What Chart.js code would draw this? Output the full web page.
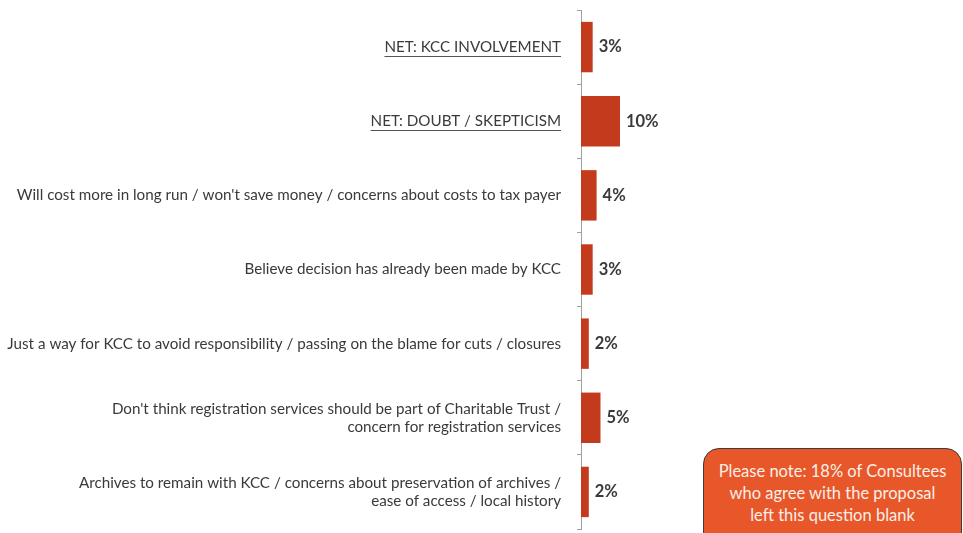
<!DOCTYPE html>
<html>
<head>
<meta charset="utf-8">
<script src="https://cdn.jsdelivr.net/npm/chart.js@4/dist/chart.umd.min.js"></script>
<style>
  html, body { margin: 0; padding: 0; background: #fff; }
  #wrap { position: relative; width: 963px; height: 533px; }
  #note {
    position: absolute; left: 703px; top: 448px; width: 259px; height: 100px;
    box-sizing: border-box; background: #e8572a; border: 1.5px solid #3c3c3c;
    border-radius: 16px; color: #fbefe9; font: 16.5px Lato, sans-serif;
    text-align: center; line-height: 22px; padding-top: 11px;
  }
</style>
</head>
<body>
<div id="wrap">
  <canvas id="chart" width="963" height="533"></canvas>
  <div id="note">Please note: 18% of Consultees<br>who agree with the proposal<br>left this question blank</div>
</div>
<script>
const categories = [
    ['NET: KCC INVOLVEMENT'],
    ['NET: DOUBT / SKEPTICISM'],
    ['Will cost more in long run / won\'t save money / concerns about costs to tax payer'],
    ['Believe decision has already been made by KCC'],
    ['Just a way for KCC to avoid responsibility / passing on the blame for cuts / closures'],
    ['Don\'t think registration services should be part of Charitable Trust /', 'concern for registration services'],
    ['Archives to remain with KCC / concerns about preservation of archives /', 'ease of access / local history'],
];
const underlined = [0, 1];
const values = [3, 10, 4, 3, 2, 5, 2];
const valueLabels = ['3%', '10%', '4%', '3%', '2%', '5%', '2%'];

const textColor = '#3a3a3a';
const labelSize = 15.2;
const labelFont = labelSize + 'px Lato, sans-serif';

const extras = {
    id: 'extras',
    afterDraw(chart) {
        const { ctx } = chart;
        const yScale = chart.scales.y;
        const meta = chart.getDatasetMeta(0);
        ctx.save();
        // underline the NET labels
        ctx.font = labelFont;
        ctx.strokeStyle = '#555';
        ctx.lineWidth = 1;
        const right = yScale.right - 4 - 16;
        underlined.forEach((i) => {
            const w = ctx.measureText(categories[i][0]).width;
            const y = Math.round(yScale.getPixelForTick(i) + 9) + 0.5;
            ctx.beginPath();
            ctx.moveTo(right - w, y);
            ctx.lineTo(right, y);
            ctx.stroke();
        });
        // value labels
        ctx.font = 'bold 16.5px Lato, sans-serif';
        ctx.fillStyle = textColor;
        ctx.textBaseline = 'middle';
        meta.data.forEach((bar, i) => {
            ctx.fillText(valueLabels[i], bar.x + 6, bar.y);
        });
        ctx.restore();
    },
};

new Chart(document.getElementById('chart'), {
    type: 'bar',
    data: {
        labels: categories,
        datasets: [
            {
                data: values,
                backgroundColor: '#c33a1c',
                barPercentage: 0.68,
                categoryPercentage: 1,
            },
        ],
    },
    options: {
        indexAxis: 'y',
        responsive: false,
        animation: false,
        layout: { padding: { top: 10, bottom: 4, left: 0, right: 0 } },
        plugins: { legend: { display: false }, tooltip: { enabled: false } },
        scales: {
            x: { display: false, min: 0, max: 98 },
            y: {
                afterFit: (scale) => {
                    scale.width = 581;
                    scale.paddingTop = 0;
                    scale.paddingBottom = 0;
                },
                border: { color: '#a0a0a0', width: 1 },
                grid: { drawOnChartArea: false, tickLength: 4, color: '#a0a0a0', offset: true },
                ticks: { color: textColor, font: { family: 'Lato', size: labelSize }, padding: 16, crossAlign: 'near' },
            },
        },
    },
    plugins: [extras],
});
</script>
</body>
</html>
